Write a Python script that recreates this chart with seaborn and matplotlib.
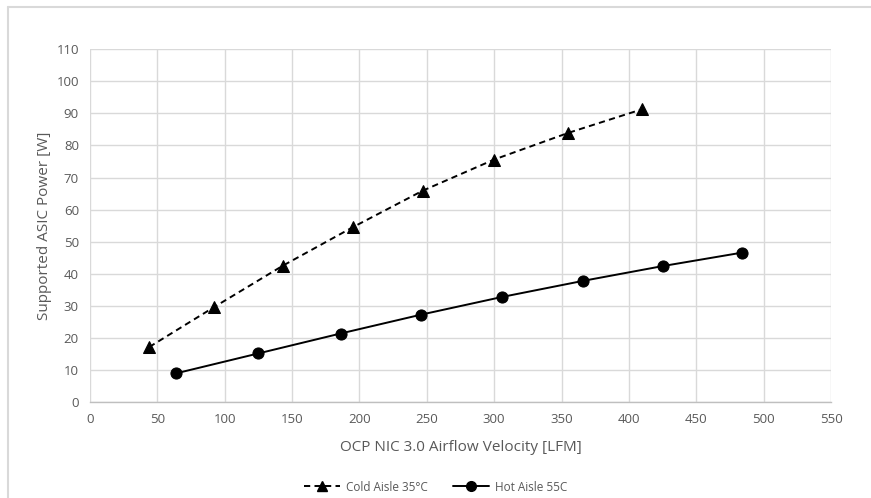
import matplotlib
matplotlib.use("Agg")
import matplotlib.pyplot as plt
import seaborn as sns
import pandas as pd
from matplotlib.lines import Line2D

cold_x = [44, 92, 143, 195, 247, 300, 355, 410]
cold_y = [17.2, 29.6, 42.5, 54.5, 65.9, 75.6, 83.9, 91.3]
hot_x = [64, 125, 186, 246, 306, 366, 425, 484]
hot_y = [9.0, 15.2, 21.4, 27.3, 32.8, 37.8, 42.4, 46.6]
cold_label = "Cold Aisle 35°C"
hot_label = "Hot Aisle 55C"
x_ticks = [0, 50, 100, 150, 200, 250, 300, 350, 400, 450, 500, 550]
y_ticks = [0, 10, 20, 30, 40, 50, 60, 70, 80, 90, 100, 110]
x_label = "OCP NIC 3.0 Airflow Velocity [LFM]"
y_label = "Supported ASIC Power [W]"

sns.set_theme(style="whitegrid")
plt.rcParams['font.family'] = ['Open Sans', 'DejaVu Sans']

TXT = "#595959"
GRID = "#d9d9d9"

fig = plt.figure(figsize=(8.71, 4.98), dpi=100)
ax = fig.add_axes([90/871, 1 - 402.2/498, (831-90)/871, (402.2-49.1)/498])

cold = pd.DataFrame({"x": cold_x, "y": cold_y})
hot = pd.DataFrame({"x": hot_x, "y": hot_y})

sns.lineplot(data=cold, x="x", y="y", ax=ax, color="black", linewidth=1.4,
             marker="^", markersize=8, markeredgecolor="black",
             label=cold_label)
sns.lineplot(data=hot, x="x", y="y", ax=ax, color="black", linewidth=1.4,
             marker="o", markersize=8, markeredgecolor="black",
             label=hot_label)
ax.lines[0].set_dashes([3.2, 2.2])

ax.set_xlim(0, 550)
ax.set_ylim(0, 110)
ax.set_xticks(x_ticks)
ax.set_yticks(y_ticks)
ax.grid(True, color=GRID, linewidth=1.0)
for s in ["top", "right", "left"]:
    ax.spines[s].set_visible(False)
ax.spines["bottom"].set_visible(True)
ax.spines["bottom"].set_color("#bfbfbf")
ax.spines["bottom"].set_linewidth(1.0)
ax.tick_params(axis="both", colors=TXT, labelsize=9.5, length=0)
ax.tick_params(axis="x", pad=8)
ax.tick_params(axis="y", pad=8)
ax.set_xlabel(x_label, color=TXT, fontsize=11, labelpad=10)
ax.set_ylabel(y_label, color=TXT, fontsize=11, labelpad=3)

h1 = Line2D([], [], color="black", linewidth=1.4, marker="^", markersize=7,
            dashes=[3.2, 2.2])
h2 = Line2D([], [], color="black", linewidth=1.4, marker="o", markersize=7)
ax.legend([h1, h2], [cold_label, hot_label], loc="center",
          bbox_to_anchor=(0.5, 1 - 487/498), bbox_transform=fig.transFigure,
          ncol=2, frameon=False, fontsize=8.5, labelcolor=TXT,
          handlelength=3.0, columnspacing=2.2, handletextpad=0.5)

# outer frame (left and top edges of the embedded chart box)
fig.add_artist(Line2D([7.5/871, 7.5/871], [0, 1 - 7.5/498], color=GRID,
                      linewidth=1.5, transform=fig.transFigure))
fig.add_artist(Line2D([7.5/871, 1], [1 - 7.5/498, 1 - 7.5/498], color=GRID,
                      linewidth=1.5, transform=fig.transFigure))

fig.savefig("out.png", dpi=100, facecolor="white")
